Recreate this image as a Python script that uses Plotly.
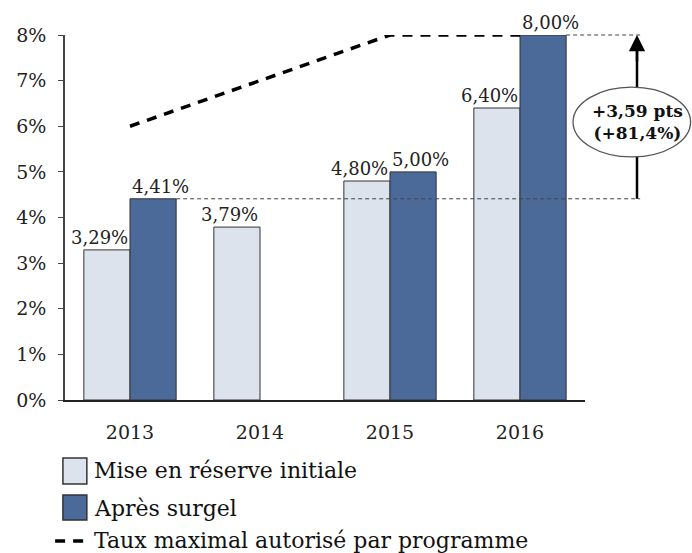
import plotly.graph_objects as go

categories = ["2013", "2014", "2015", "2016"]
mise_en_reserve = [3.29, 3.79, 4.80, 6.40]
apres_surgel = [4.41, None, 5.00, 8.00]
taux_max = [6, 7, 8, 8]
y_ticks = [0, 1, 2, 3, 4, 5, 6, 7, 8]
y_tick_labels = ["0%", "1%", "2%", "3%", "4%", "5%", "6%", "7%", "8%"]
series_names = ["Mise en réserve initiale", "Après surgel", "Taux maximal autorisé par programme"]
ecart_label = "+3,59 pts<br>(+81,4%)"

Y_MAX = 8
BARGAP = 0.29
FONT = "DejaVu Serif"
LIGHT = "#dce3ed"
DARK = "#4b6a99"
EDGE = "#333333"

fig = go.Figure()
fig.add_trace(go.Bar(
    x=categories, y=mise_en_reserve, name=series_names[0],
    marker=dict(color=LIGHT, line=dict(color=EDGE, width=1))))
fig.add_trace(go.Bar(
    x=categories, y=apres_surgel, name=series_names[1],
    marker=dict(color=DARK, line=dict(color=EDGE, width=1))))
fig.add_trace(go.Scatter(
    x=categories, y=taux_max, mode="lines", name=series_names[2],
    line=dict(color="black", width=3.5, dash="10px,8px"), cliponaxis=False))

# bar geometry (category units)
bar_w = (1 - BARGAP) / 2
n = len(categories)
def xp(c):
    return (c + 0.5) / n

def fmt(v):
    return f"{v:.2f}".replace(".", ",") + "%"

# reference lines (paper coords derived from data)
base = apres_surgel[0]
top = apres_surgel[3]
arrow_x = 1.1
fig.add_shape(type="line", xref="paper", yref="paper",
              x0=xp(0 + bar_w), x1=arrow_x + 0.006, y0=base / Y_MAX, y1=base / Y_MAX,
              line=dict(color="#444", width=1, dash="4px,3px"))
fig.add_shape(type="line", xref="paper", yref="paper",
              x0=xp(3 + bar_w), x1=arrow_x + 0.006, y0=top / Y_MAX, y1=top / Y_MAX,
              line=dict(color="#444", width=1, dash="4px,3px"))
fig.add_shape(type="line", xref="paper", yref="paper",
              x0=arrow_x, x1=arrow_x, y0=base / Y_MAX, y1=top / Y_MAX - 0.02,
              line=dict(color="black", width=2.5))
fig.add_shape(type="circle", xref="paper", yref="paper",
              x0=0.977, x1=1.203, y0=0.666, y1=0.857,
              fillcolor="white", line=dict(color="#555", width=1.3))
fig.add_annotation(xref="paper", yref="paper", x=arrow_x, y=top / Y_MAX,
                   ax=0, ay=28, axref="pixel", ayref="pixel", text="",
                   showarrow=True, arrowhead=2, arrowsize=1.3, arrowwidth=2.5, arrowcolor="black")
fig.add_annotation(xref="paper", yref="paper", x=1.1, y=0.762, xanchor="center", yanchor="middle",
                   text="<b>" + ecart_label + "</b>",
                   showarrow=False, font=dict(family=FONT, size=17, color="#111"), align="center")

# value labels above bars
lab_font = dict(family=FONT, size=18, color="#222")
for series, side, shift in [(mise_en_reserve, -1, -7), (apres_surgel, 1, 7)]:
    for i, v in enumerate(series):
        if v is None:
            continue
        fig.add_annotation(xref="x", yref="y", x=i + side * bar_w / 2, y=v,
                           xanchor="center", yanchor="bottom", xshift=shift, yshift=1,
                           text=fmt(v), showarrow=False, font=lab_font,
                           bgcolor="rgba(255,255,255,0.9)" if side < 0 else None, borderpad=0)

# legend (drawn below the plot)
leg_font = dict(family=FONT, size=22, color="#111")
fig.add_shape(type="rect", xref="paper", yref="paper", x0=-0.004, x1=0.042, y0=-0.159, y1=-0.230,
              fillcolor=LIGHT, line=dict(color=EDGE, width=1.5))
fig.add_shape(type="rect", xref="paper", yref="paper", x0=-0.004, x1=0.042, y0=-0.260, y1=-0.329,
              fillcolor=DARK, line=dict(color=EDGE, width=1.5))
fig.add_shape(type="line", xref="paper", yref="paper", x0=-0.019, x1=0.040, y0=-0.386, y1=-0.386,
              line=dict(color="black", width=3.5, dash="10px,8px"))
for name, yy in zip(series_names, [-0.1945, -0.296, -0.386]):
    fig.add_annotation(xref="paper", yref="paper", x=0.052, y=yy, xanchor="left", yanchor="middle",
                       text=name, showarrow=False, font=leg_font)

fig.update_layout(
    width=692, height=553,
    margin=dict(l=65, r=107, t=35, b=153),
    paper_bgcolor="white", plot_bgcolor="white",
    barmode="group", bargap=BARGAP, bargroupgap=0,
    font=dict(family=FONT, size=19, color="#222"),
    showlegend=False,
    xaxis=dict(type="category", range=[-0.5, 3.5], showline=True, linecolor="#222", linewidth=1.5,
               ticks="", showgrid=False, ticklabelstandoff=14, automargin=False,
               tickfont=dict(family=FONT, size=19, color="#222")),
    yaxis=dict(range=[0, Y_MAX], tickvals=y_ticks, ticktext=y_tick_labels, showline=True,
               linecolor="#444", linewidth=1.5, ticks="outside", ticklen=5, tickcolor="#444",
               showgrid=False, zeroline=False, ticklabelstandoff=8, automargin=False,
               tickfont=dict(family=FONT, size=19, color="#222")),
)

fig.write_html("out.html", config={"displayModeBar": False},
               post_script="document.body.style.margin='0';document.body.style.padding='0';"
                           "document.body.style.overflow='hidden';")
